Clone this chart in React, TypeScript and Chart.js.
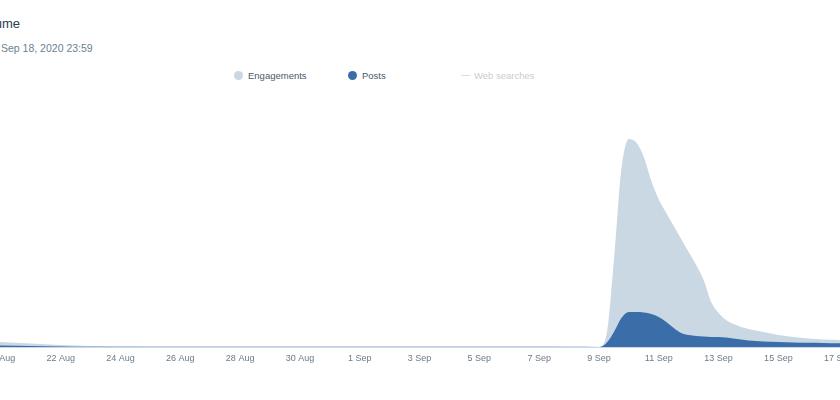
import React, { useEffect, useRef } from "react";
import { Chart, registerables } from "chart.js";

Chart.register(...registerables);

// x positions in days since 20 Aug 2020 (0 = 20 Aug)
const dayOffsets = [
  -1, 0, 1, 2, 3, 4, 5, 6, 8, 10, 12, 14, 16, 18, 19, 20,
  20.25, 20.5, 20.75, 21, 21.25, 21.5, 21.75, 22, 22.25, 22.5, 22.75,
  23, 23.25, 23.5, 23.75, 24, 24.25, 24.5, 24.75, 25, 25.5, 26, 26.5,
  27, 27.5, 28, 29, 30,
];

const engagements = [
  280, 200, 140, 80, 40, 20, 12, 8, 8, 8, 8, 8, 8, 8, 4, 4,
  480, 3480, 7120, 8320, 8180, 7600, 6650, 5900, 5360, 4840, 4320,
  3800, 3280, 2680, 1800, 1360, 1080, 920, 800, 720, 600, 480, 400,
  340, 300, 280, 240, 200,
];

const posts = [
  70, 60, 40, 20, 8, 8, 8, 8, 8, 8, 8, 8, 8, 8, 6, 4,
  160, 600, 1160, 1400, 1400, 1380, 1320, 1200, 1000, 760, 560,
  480, 440, 420, 400, 400, 380, 340, 300, 260, 220, 200, 180,
  168, 160, 150, 140, 130,
];

const tickDays = [0, 2, 4, 6, 8, 10, 12, 14, 16, 18, 20, 22, 24, 26, 28];
const tickLabels = [
  "20 Aug", "22 Aug", "24 Aug", "26 Aug", "28 Aug", "30 Aug", "1 Sep",
  "3 Sep", "5 Sep", "7 Sep", "9 Sep", "11 Sep", "13 Sep", "15 Sep", "17 Sep",
];

const seriesNames = ["Engagements", "Posts", "Web searches"];
const seriesColors = ["#c9d8e3", "#3b6ea8", "#cccccc"];

const titleText = "Volume";
const subtitleText = "Sep 18, 2020 23:59";

const FONT = "'Liberation Sans', Arial, Helvetica, sans-serif";

export default function App() {
  const canvasRef = useRef<HTMLCanvasElement | null>(null);

  useEffect(() => {
    if (!canvasRef.current) return;
    const chart = new Chart(canvasRef.current, {
      type: "line",
      data: {
        datasets: [
          {
            label: seriesNames[1],
            data: dayOffsets.map((d, i) => ({ x: d, y: posts[i] })),
            backgroundColor: seriesColors[1],
            borderColor: seriesColors[1],
            borderWidth: 0,
            pointRadius: 0,
            fill: "origin",
            cubicInterpolationMode: "monotone",
            order: 0,
          },
          {
            label: seriesNames[0],
            data: dayOffsets.map((d, i) => ({ x: d, y: engagements[i] })),
            backgroundColor: seriesColors[0],
            borderColor: seriesColors[0],
            borderWidth: 0,
            pointRadius: 0,
            fill: "origin",
            cubicInterpolationMode: "monotone",
            order: 1,
          },
        ],
      },
      options: {
        animation: false,
        responsive: false,
        maintainAspectRatio: false,
        devicePixelRatio: 1,
        layout: { padding: 0 },
        plugins: {
          legend: { display: false },
          title: { display: false },
          tooltip: { enabled: false },
        },
        scales: {
          x: {
            type: "linear",
            min: -1,
            max: 30,
            afterBuildTicks: (s: any) => {
              s.ticks = tickDays.map((v) => ({ value: v }));
            },
            afterFit: (s: any) => {
              s.height = 30;
            },
            ticks: {
              autoSkip: false,
              maxRotation: 0,
              padding: 6,
              color: "#6b7b88",
              font: { family: FONT, size: 9 },
              callback: (_v: any, i: number) => tickLabels[i],
            },
            grid: { display: true, drawOnChartArea: false, drawTicks: false },
            border: { display: true, color: "#ccd6eb", width: 1 },
          },
          y: { display: false, min: 0, max: 10000 },
        },
      },
    });
    return () => chart.destroy();
  }, []);

  const legendItem = (i: number, left: number) => {
    const hidden = i === 2;
    return (
      <div
        key={i}
        style={{
          position: "absolute",
          left,
          top: 69,
          height: 12,
          display: "flex",
          alignItems: "center",
          whiteSpace: "nowrap",
          font: `9.5px ${FONT}`,
          color: hidden ? "#cccccc" : "#4a5a68",
        }}
      >
        {hidden ? (
          <span style={{ display: "inline-block", width: 9, height: 1, background: "#dddddd", marginRight: 4 }} />
        ) : (
          <span
            style={{
              display: "inline-block",
              width: 9,
              height: 9,
              borderRadius: "50%",
              background: seriesColors[i],
              marginRight: 5,
            }}
          />
        )}
        {seriesNames[i]}
      </div>
    );
  };

  return (
    <div
      style={{
        position: "fixed",
        left: 0,
        top: 0,
        width: 840,
        height: 400,
        overflow: "hidden",
        background: "#ffffff",
      }}
    >
      <div
        style={{
          position: "absolute",
          right: 820,
          top: 15,
          whiteSpace: "nowrap",
          font: `13px ${FONT}`,
          color: "#2f3e4c",
          lineHeight: "18px",
        }}
      >
        {titleText}
      </div>
      <div
        style={{
          position: "absolute",
          left: 1,
          top: 41,
          whiteSpace: "nowrap",
          font: `10.5px ${FONT}`,
          color: "#6d7f8e",
          lineHeight: "14px",
        }}
      >
        {subtitleText}
      </div>
      {legendItem(0, 234)}
      {legendItem(1, 348)}
      {legendItem(2, 461)}
      <div style={{ position: "absolute", left: -29, top: 97, width: 927, height: 280 }}>
        <canvas ref={canvasRef} width={927} height={280} style={{ width: 927, height: 280 }} />
      </div>
    </div>
  );
}
